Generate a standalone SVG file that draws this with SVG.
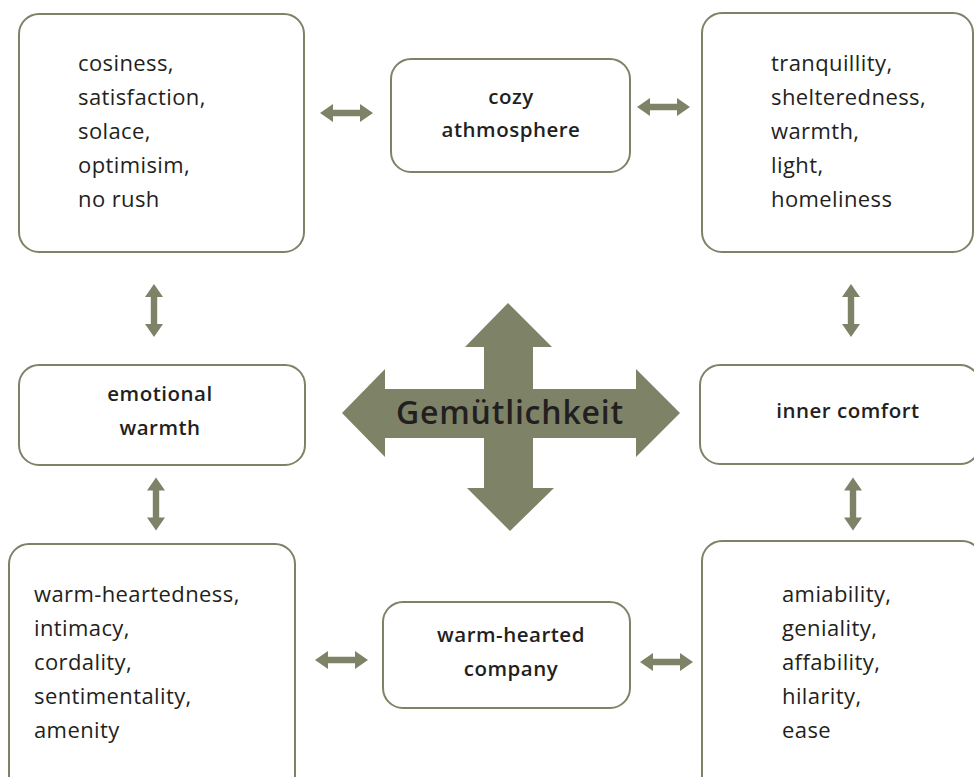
<svg xmlns="http://www.w3.org/2000/svg" width="974" height="777" viewBox="0 0 974 777">
<style>
.box{fill:#fff;stroke:#7e8367;stroke-width:2}
.lst{font-family:"Open Sans","Liberation Sans",sans-serif;font-size:22px;letter-spacing:0.4px;fill:#231f20}
.lbl{font-family:"Open Sans","Liberation Sans",sans-serif;font-size:20.5px;font-weight:600;letter-spacing:0.5px;fill:#231f20;text-anchor:middle}
.arr{fill:#7e8367}
.big{font-family:"Open Sans","Liberation Sans",sans-serif;font-size:32px;font-weight:600;letter-spacing:0.8px;fill:#231f20;text-anchor:middle}
</style>
<defs>
<polygon id="dbl" points="-26.5,0 -13.5,-9 -13.5,-3.2 13.5,-3.2 13.5,-9 26.5,0 13.5,9 13.5,3.2 -13.5,3.2 -13.5,9"/>
</defs>
<rect width="974" height="777" fill="#fff"/>

<g id="connectors" class="arr">
<use href="#dbl" transform="translate(346.5,113)"/>
<use href="#dbl" transform="translate(663.5,107)"/>
<use href="#dbl" transform="translate(341.5,660)"/>
<use href="#dbl" transform="translate(666.5,662)"/>
<use href="#dbl" transform="translate(154,310.5) rotate(90)"/>
<use href="#dbl" transform="translate(156,504) rotate(90)"/>
<use href="#dbl" transform="translate(851,310.5) rotate(90)"/>
<use href="#dbl" transform="translate(853,504) rotate(90)"/>
</g>

<g id="center">
<polygon class="arr" points="508,303 552,347 533,347 533,389 636,389 636,369 680,413 636,457 636,438 533,438 533,488 554,488 510,531 467,488 484,488 484,438 385,438 385,457 342,413 385,369 385,389 484,389 484,347 465,347"/>
<text class="big" x="510" y="424">Gemütlichkeit</text>
</g>

<g id="n-topleft">
<rect class="box" x="19" y="14" width="285" height="238" rx="20"/>
<text class="lst" x="78" y="71">cosiness,</text>
<text class="lst" x="78" y="105">satisfaction,</text>
<text class="lst" x="78" y="139">solace,</text>
<text class="lst" x="78" y="173">optimisim,</text>
<text class="lst" x="78" y="207">no rush</text>
</g>

<g id="n-cozy">
<rect class="box" x="391" y="59" width="239" height="113" rx="20"/>
<text class="lbl" x="511" y="104">cozy</text>
<text class="lbl" x="511" y="137">athmosphere</text>
</g>

<g id="n-topright">
<rect class="box" x="702" y="13" width="271" height="239" rx="20"/>
<text class="lst" x="771" y="71">tranquillity,</text>
<text class="lst" x="771" y="105">shelteredness,</text>
<text class="lst" x="771" y="139">warmth,</text>
<text class="lst" x="771" y="173">light,</text>
<text class="lst" x="771" y="207">homeliness</text>
</g>

<g id="n-emotional">
<rect class="box" x="19" y="365" width="286" height="100" rx="20"/>
<text class="lbl" x="160" y="401">emotional</text>
<text class="lbl" x="160" y="435">warmth</text>
</g>

<g id="n-inner">
<rect class="box" x="700" y="365" width="280" height="99" rx="20"/>
<text class="lbl" x="848" y="418">inner comfort</text>
</g>

<g id="n-bottomleft">
<rect class="box" x="9" y="544" width="286" height="260" rx="20"/>
<text class="lst" x="34" y="602">warm-heartedness,</text>
<text class="lst" x="34" y="636">intimacy,</text>
<text class="lst" x="34" y="670">cordality,</text>
<text class="lst" x="34" y="704">sentimentality,</text>
<text class="lst" x="34" y="738">amenity</text>
</g>

<g id="n-company">
<rect class="box" x="383" y="602" width="247" height="106" rx="20"/>
<text class="lbl" x="511" y="642">warm-hearted</text>
<text class="lbl" x="511" y="676">company</text>
</g>

<g id="n-bottomright">
<rect class="box" x="702" y="541" width="280" height="260" rx="20"/>
<text class="lst" x="782" y="602">amiability,</text>
<text class="lst" x="782" y="636">geniality,</text>
<text class="lst" x="782" y="670">affability,</text>
<text class="lst" x="782" y="704">hilarity,</text>
<text class="lst" x="782" y="738">ease</text>
</g>
</svg>
